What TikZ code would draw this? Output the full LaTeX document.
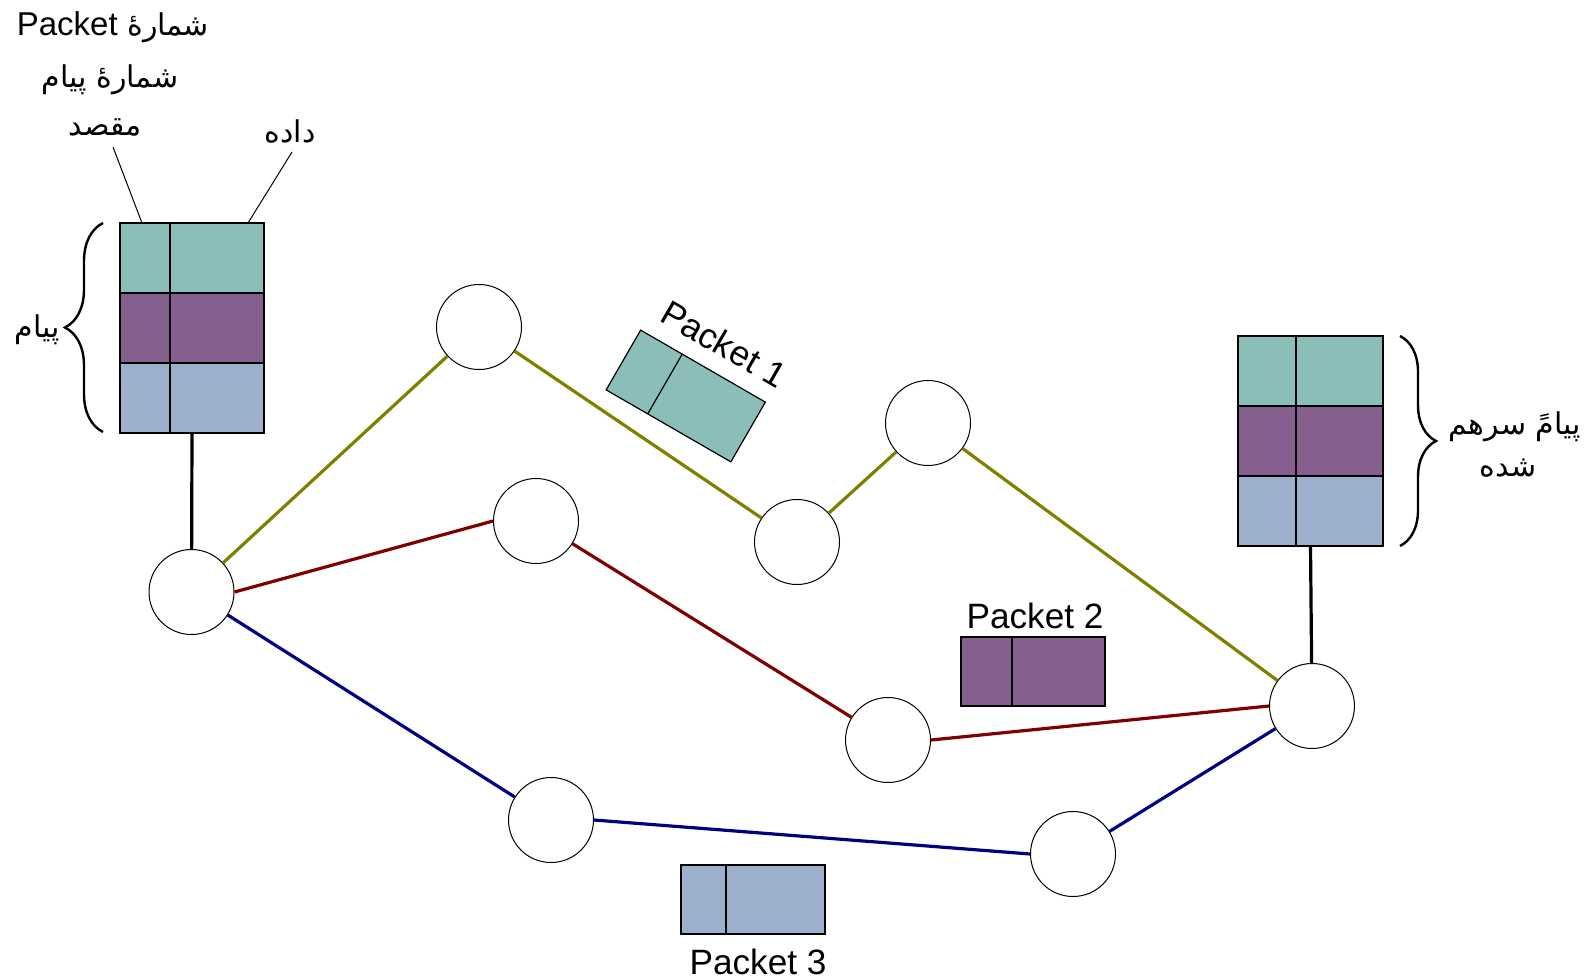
\documentclass[tikz,border=0pt]{standalone}
\usepackage{fontspec}
\setmainfont{Liberation Sans}
\newfontfamily\fa[Script=Arabic]{DejaVu Sans}
\TeXXeTstate=1
\usetikzlibrary{decorations.pathreplacing}
\definecolor{cteal}{RGB}{140,190,185}
\definecolor{cpurp}{RGB}{133,96,143}
\definecolor{cblue}{RGB}{156,175,205}
\definecolor{colive}{RGB}{128,128,0}
\definecolor{cred}{RGB}{128,0,0}
\definecolor{cnavy}{RGB}{0,0,128}
\tikzset{
  router/.style={circle,draw,fill=white,minimum size=42.5pt,inner sep=0pt,line width=0.5pt},
  olivel/.style={colive,line width=1.6pt},
  redl/.style={cred,line width=1.6pt},
  navyl/.style={cnavy,line width=1.6pt},
  blackl/.style={black,line width=1.6pt},
  lbl/.style={font=\fontsize{17.6pt}{20pt}\selectfont,inner sep=0pt},
  falbl/.style={font=\fontsize{15pt}{18pt}\selectfont\fa,inner sep=0pt},
  bracel/.style={line width=1.2pt,decorate},
  pics/pkt/.style 2 args={code={
    \fill[#1] (-72,-34.5) rectangle (72,34.5);
    \draw[line width=0.6pt] (-72,-34.5) rectangle (72,34.5);
    \draw[line width=0.6pt] (#2,-34.5) -- (#2,34.5);
  }}
}
\begin{document}
\begin{tikzpicture}[x=0.5pt,y=-0.5pt]
\useasboundingbox (0,0) rectangle (1589,979);

% left stack
\fill[cteal] (120,223) rectangle (264,293);
\fill[cpurp] (120,293) rectangle (264,363);
\fill[cblue] (120,363) rectangle (264,433);
\draw[line width=0.6pt] (120,223) rectangle (264,433) (120,293) -- (264,293) (120,363) -- (264,363) (170,223) -- (170,433);
\node[inner sep=0,minimum width=72pt,minimum height=105pt] (LS) at (192,328) {};

% right stack
\fill[cteal] (1238,336) rectangle (1383,406);
\fill[cpurp] (1238,406) rectangle (1383,476);
\fill[cblue] (1238,476) rectangle (1383,546);
\draw[line width=0.6pt] (1238,336) rectangle (1383,546) (1238,406) -- (1383,406) (1238,476) -- (1383,476) (1296,336) -- (1296,546);
\node[inner sep=0,minimum width=72.5pt,minimum height=105pt] (RS) at (1310.5,441) {};

% braces
\draw[bracel,decoration={brace,amplitude=19pt}] (103,432) -- (103,223);
\draw[bracel,decoration={brace,amplitude=18pt}] (1400,336) -- (1400,546);

% routers
\node[router] (A) at (191.5,592) {};
\node[router] (B) at (479,327) {};
\node[router] (C) at (536,521) {};
\node[router] (D) at (797,542) {};
\node[router] (E) at (928,423) {};
\node[router] (F) at (888,740) {};
\node[router] (G) at (1312,706) {};
\node[router] (H) at (551,820) {};
\node[router] (I) at (1073,854) {};

% connectors
\draw[olivel] (A) -- (B);
\draw[olivel] (B) -- (D);
\draw[olivel] (D) -- (E);
\draw[olivel] (E) -- (G);
\draw[redl] (A.east) -- (C.west);
\draw[redl] (C) -- (F);
\draw[redl] (F.east) -- (G.west);
\draw[navyl] (A) -- (H);
\draw[navyl] (H.east) -- (I.west);
\draw[navyl] (I) -- (G);
\draw[blackl] (LS.south) -- (A);
\draw[blackl] (RS.south) -- (G);

% packets
\pic[rotate=-30] at (685.75,396) {pkt={cteal}{-24}};
\node[lbl,rotate=-30] (p1) at (724,344) {Packet 1};
\pic at (1033,671.5) {pkt={cpurp}{-21}};
\node[lbl] (p2) at (1035,616) {Packet 2};
\pic at (753,899.5) {pkt={cblue}{-27}};
\node[lbl] (p3) at (758,962) {Packet 3};

% labels
\node[falbl] (t1) at (113,27) {\beginR شمارۀ \beginL{\normalfont\fontsize{16.5pt}{18pt}\selectfont Packet}\endL\endR};
\node[falbl] (t2) at (110,80) {\beginR شمارۀ پیام\endR};
\node[falbl] (t3) at (105,127) {\beginR مقصد\endR};
\node[falbl] (t4) at (290,132) {\beginR داده\endR};
\node[falbl] (t5) at (37,330) {\beginR پیام\endR};
\node[falbl] (t6) at (1515,427) {\beginR پیامً سرهم\endR};
\node[falbl] (t7) at (1508,468) {\beginR شده\endR};
\coordinate (c1) at (142,223);
\coordinate (c2) at (248,223);
\draw[line width=0.5pt] (113,147) -- (c1);
\draw[line width=0.5pt] (292,152) -- (c2);
\end{tikzpicture}
\end{document}
